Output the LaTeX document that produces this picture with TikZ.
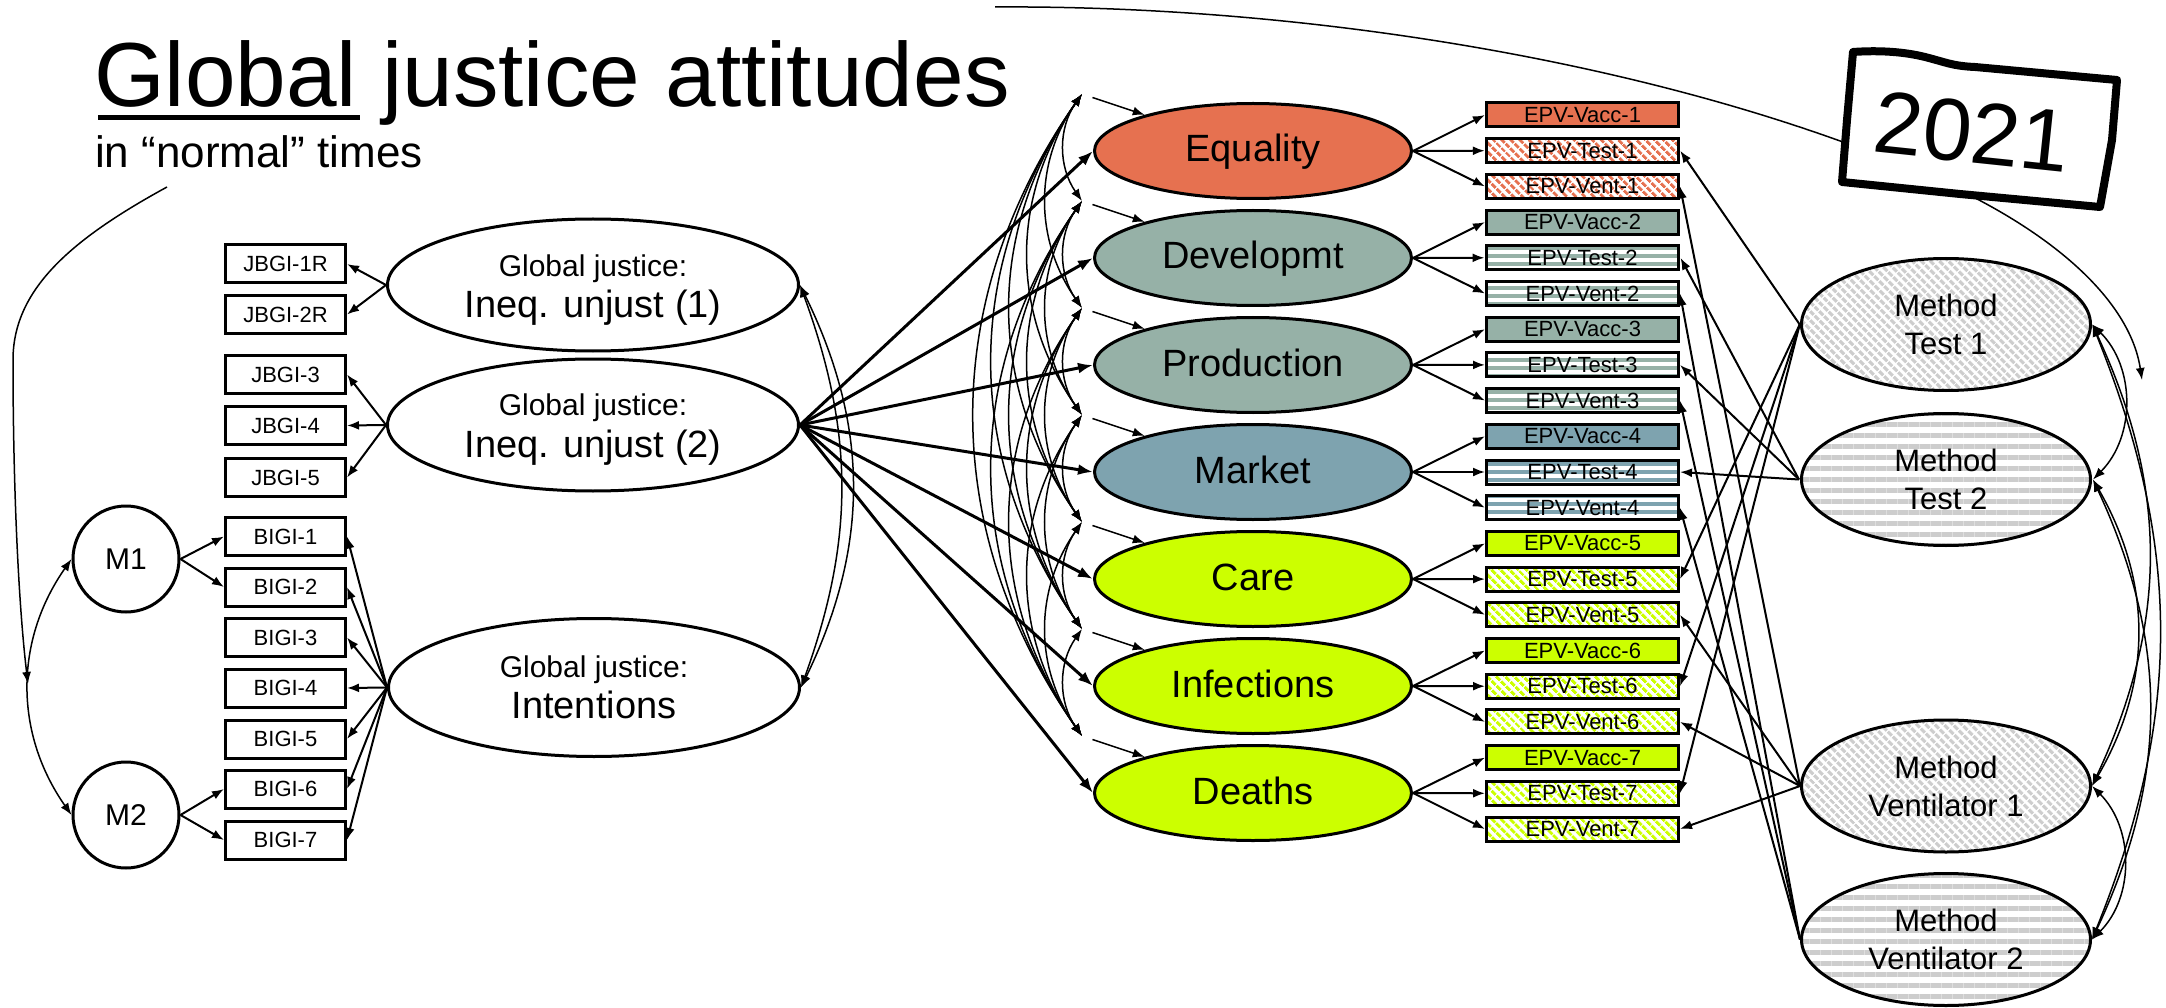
\documentclass[tikz,border=0pt]{standalone}
\usepackage{fontspec}
\setmainfont{Liberation Sans}
\usetikzlibrary{shapes.geometric,arrows.meta,patterns.meta,calc}

\definecolor{cEq}{RGB}{230,113,80}
\definecolor{cDev}{RGB}{150,177,167}
\definecolor{cMkt}{RGB}{126,163,175}
\definecolor{cLime}{RGB}{204,255,0}
\definecolor{cMeth}{RGB}{205,205,205}

\tikzset{
  >={Latex[length=12pt,width=9pt]},
  ind/.style={draw, line width=3pt, minimum width=120pt, minimum height=38pt, inner sep=0pt, font=\fontsize{22}{24}\selectfont},
  epv/.style={draw, line width=3pt, minimum width=192pt, minimum height=24pt, inner sep=0pt, font=\fontsize{22}{24}\selectfont},
  vacc/.style={epv, fill=#1},
  dstr/.style={epv, preaction={fill=white}, pattern={Lines[angle=-45,distance=6.5pt,line width=3.4pt]}, pattern color=#1},
  hstr/.style={epv, preaction={fill=white}, pattern={Lines[angle=0,distance=8pt,line width=4pt]}, pattern color=#1},
  gj/.style={ellipse, draw, line width=3pt, minimum width=411pt, minimum height=132pt, inner sep=0pt},
  gjsmall/.style={font=\fontsize{30}{32}\selectfont, anchor=base, inner sep=0pt},
  gjbig/.style={font=\fontsize{38}{40}\selectfont, anchor=base, inner sep=0pt},
  mcirc/.style={circle, draw, line width=3pt, minimum size=106pt, inner sep=0pt, font=\fontsize{30}{32}\selectfont},
  fac/.style={ellipse, draw, line width=3pt, minimum width=317pt, minimum height=95pt, inner sep=0pt, fill=#1, font=\fontsize{38}{40}\selectfont, text height=28pt, text depth=6pt},
  meth/.style={ellipse, draw, line width=3pt, minimum width=289pt, minimum height=132pt, inner sep=0pt, align=center, font=\fontsize{31}{38}\selectfont},
  mdiag/.style={meth, preaction={fill=white}, pattern={Lines[angle=-45,distance=6.5pt,line width=3.6pt]}, pattern color=cMeth},
  mhor/.style={meth, preaction={fill=white}, pattern={Lines[angle=0,distance=11pt,line width=5pt]}, pattern color=cMeth},
  load/.style={->, line width=2pt},
  lnk/.style={->, line width=1.5pt},
  cov/.style={<->, line width=1.5pt},
  reg/.style={->, line width=3pt, >={Latex[length=15pt,width=11pt]}},
}

\begin{document}
\begin{tikzpicture}[x=1pt,y=1pt]
\useasboundingbox (0,0) rectangle (2166,-1008);

% ---------- title ----------
\node[anchor=base west, inner sep=0pt, font=\fontsize{91}{100}\selectfont] (title) at (94,-107) {Global justice attitudes};
\draw[line width=5pt] (98,-118) -- (360,-118);
\node[anchor=base west, inner sep=0pt, font=\fontsize{44}{48}\selectfont] (sub) at (95,-168) {in “normal” times};

% ---------- global justice indicators ----------
\node[ind] (j1) at (285.5,-264) {JBGI-1R};
\node[ind] (j2) at (285.5,-314.5) {JBGI-2R};
\node[ind] (j3) at (285.5,-374.5) {JBGI-3};
\node[ind] (j4) at (285.5,-425.5) {JBGI-4};
\node[ind] (j5) at (285.5,-477.5) {JBGI-5};
\node[ind] (b1) at (285.5,-536.5) {BIGI-1};
\node[ind] (b2) at (285.5,-587) {BIGI-2};
\node[ind] (b3) at (285.5,-637.5) {BIGI-3};
\node[ind] (b4) at (285.5,-688) {BIGI-4};
\node[ind] (b5) at (285.5,-739) {BIGI-5};
\node[ind] (b6) at (285.5,-789) {BIGI-6};
\node[ind] (b7) at (285.5,-840) {BIGI-7};

% ---------- global justice factors ----------
\node[gj] (gj1) at (593,-285) {};
\node[gjsmall] (gj1a) at (593,-277) {Global justice:};
\node[gjbig] (gj1b) at (593,-318) {Ineq. unjust (1)};
\node[gj] (gj2) at (593,-425) {};
\node[gjsmall] (gj2a) at (593,-415) {Global justice:};
\node[gjbig] (gj2b) at (593,-457) {Ineq. unjust (2)};
\node[gj, minimum height=138pt] (gj3) at (594,-687.5) {};
\node[gjsmall] (gj3a) at (594,-677) {Global justice:};
\node[gjbig] (gj3b) at (594,-718) {Intentions};

% ---------- method factors (left) ----------
\node[mcirc] (m1) at (126,-559) {M1};
\node[mcirc] (m2) at (126,-815) {M2};

% ---------- EPV factors ----------
\node[fac=cEq]   (f1) at (1253,-151) {Equality};
\node[fac=cDev]  (f2) at (1253,-258) {Developmt};
\node[fac=cDev]  (f3) at (1253,-365) {Production};
\node[fac=cMkt]  (f4) at (1253,-472) {Market};
\node[fac=cLime] (f5) at (1253,-579) {Care};
\node[fac=cLime] (f6) at (1253,-686) {Infections};
\node[fac=cLime] (f7) at (1253,-793) {Deaths};

% disturbance points
\coordinate (d1) at (1082,-94);
\coordinate (d2) at (1082,-201);
\coordinate (d3) at (1082,-308);
\coordinate (d4) at (1082,-415);
\coordinate (d5) at (1082,-522);
\coordinate (d6) at (1082,-629);
\coordinate (d7) at (1082,-736);

% ---------- EPV indicators ----------
\node[vacc=cEq]   (a1) at (1582.5,-115)   {EPV-Vacc-1};
\node[dstr=cEq]   (t1) at (1582.5,-150.7) {EPV-Test-1};
\node[dstr=cEq]   (v1) at (1582.5,-186.4) {EPV-Vent-1};
\node[vacc=cDev]  (a2) at (1582.5,-222.1) {EPV-Vacc-2};
\node[hstr=cDev]  (t2) at (1582.5,-257.8) {EPV-Test-2};
\node[hstr=cDev]  (v2) at (1582.5,-293.5) {EPV-Vent-2};
\node[vacc=cDev]  (a3) at (1582.5,-329.2) {EPV-Vacc-3};
\node[hstr=cDev]  (t3) at (1582.5,-364.9) {EPV-Test-3};
\node[hstr=cDev]  (v3) at (1582.5,-400.6) {EPV-Vent-3};
\node[vacc=cMkt]  (a4) at (1582.5,-436.3) {EPV-Vacc-4};
\node[hstr=cMkt]  (t4) at (1582.5,-472)   {EPV-Test-4};
\node[hstr=cMkt]  (v4) at (1582.5,-507.7) {EPV-Vent-4};
\node[vacc=cLime] (a5) at (1582.5,-543.4) {EPV-Vacc-5};
\node[dstr=cLime] (t5) at (1582.5,-579.1) {EPV-Test-5};
\node[dstr=cLime] (v5) at (1582.5,-614.8) {EPV-Vent-5};
\node[vacc=cLime] (a6) at (1582.5,-650.5) {EPV-Vacc-6};
\node[dstr=cLime] (t6) at (1582.5,-686.2) {EPV-Test-6};
\node[dstr=cLime] (v6) at (1582.5,-721.9) {EPV-Vent-6};
\node[vacc=cLime] (a7) at (1582.5,-757.6) {EPV-Vacc-7};
\node[dstr=cLime] (t7) at (1582.5,-793.3) {EPV-Test-7};
\node[dstr=cLime] (v7) at (1582.5,-829)   {EPV-Vent-7};

% ---------- method factors (right) ----------
\node[mdiag] (mt1) at (1946,-324.5) {Method\\Test 1};
\node[mhor]  (mt2) at (1946,-479.5) {Method\\Test 2};
\node[mdiag] (mv1) at (1946,-786)   {Method\\Ventilator 1};
\node[mhor]  (mv2) at (1946,-939.5) {Method\\Ventilator 2};

% ---------- loadings, left block ----------
\foreach \b in {j1,j2} \draw[load] (gj1.west) -- (\b.east);
\foreach \b in {j3,j4,j5} \draw[load] (gj2.west) -- (\b.east);
\foreach \i in {1,...,7} \draw[load] (gj3.west) -- (b\i.east);
\draw[load] (m1.east) -- (b1.west);
\draw[load] (m1.east) -- (b2.west);
\draw[load] (m2.east) -- (b6.west);
\draw[load] (m2.east) -- (b7.west);

% covariances, left block
\draw[cov] (m1.west) to[bend right=35] (m2.west);
\draw[cov] (gj1.east) to[bend left=20] (gj3.east);
\draw[cov] (gj1.east) to[bend left=26] (gj3.east);

% ---------- regressions ----------
\foreach \k in {1,...,7} \draw[reg] (gj2.east) -- (f\k.west);

% disturbances and their covariances
\foreach \k in {1,...,7} \draw[lnk, shorten <=11pt] (d\k) -- (f\k);
\foreach \i in {1,...,6} {
  \pgfmathtruncatemacro\nx{\i+1}
  \foreach \j in {\nx,...,7} \draw[cov] (d\i) to[bend right=35] (d\j);
}

% ---------- EPV loadings ----------
\foreach \k in {1,...,7} {
  \draw[load] (f\k.east) -- (a\k.west);
  \draw[load] (f\k.east) -- (t\k.west);
  \draw[load] (f\k.east) -- (v\k.west);
}

% method loadings
\foreach \k in {1,5,6,7} {
  \draw[load] (mt1.west) -- (t\k.east);
  \draw[load] (mv1.west) -- (v\k.east);
}
\foreach \k in {2,3,4} {
  \draw[load] (mt2.west) -- (t\k.east);
  \draw[load] (mv2.west) -- (v\k.east);
}

% method covariances
\draw[cov] (mt1.east) to[bend left=45] (mt2.east);
\draw[cov] (mt1.east) to[bend left=25] (mv1.east);
\draw[cov] (mt1.east) to[bend left=22] (mv2.east);
\draw[cov] (mt2.east) to[bend left=30] (mv1.east);
\draw[cov] (mt2.east) to[bend left=25] (mv2.east);
\draw[cov] (mv1.east) to[bend left=45] (mv2.east);

% ---------- pointer curves ----------
\coordinate (cns) at (167,-187);
\coordinate (cne) at (28,-684);
\draw[lnk] (cns) .. controls (70,-240) and (13,-290) .. (13,-360)
  .. controls (13,-480) and (18,-600) .. (cne);

\coordinate (cys) at (995,-7);
\coordinate (cye) at (2142,-380);
\draw[lnk] (cys) .. controls (1300,-5) and (1650,-60) .. (1910,-168)
  .. controls (2050,-225) and (2130,-300) .. (cye);

% hand-drawn year tag
\draw[line width=8pt, fill=white, line join=round]
  (1853,-52) .. controls (1880,-50) and (1905,-52) .. (1925,-57)
  .. controls (1945,-62) and (1952,-66) .. (1975,-67)
  -- (2117,-80) -- (2112,-140) -- (2100,-207) -- (1960,-194)
  -- (1842,-182) -- (1847,-120) -- cycle;
\node[rotate=-6, inner sep=0pt, font=\fontsize{88}{92}\selectfont] (yr) at (1972,-132) {2021};

\end{tikzpicture}
\end{document}
